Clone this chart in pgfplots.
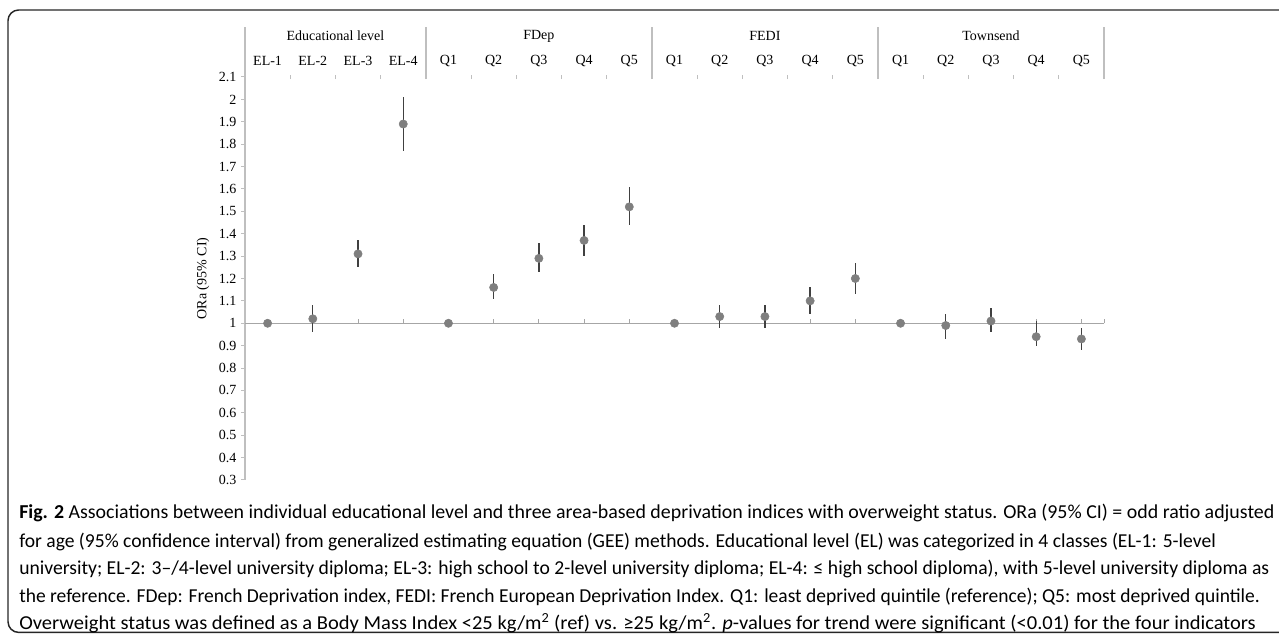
\documentclass[border=0pt]{standalone}
\usepackage{fontspec}
\setmainfont{Liberation Serif}
\newfontfamily\capfont{Carlito}
\usepackage{pgfplots}
\pgfplotsset{compat=1.18}
\usepackage{pgfplotstable}

\definecolor{axgray}{HTML}{A6A6A6}
\definecolor{sepgray}{HTML}{BFBFBF}
\definecolor{mkgray}{HTML}{7F7F7F}
\definecolor{ebgray}{HTML}{404040}

\pgfplotstableread{
x y lo hi
0 1.00 1.00 1.00
1 1.02 0.96 1.08
2 1.31 1.25 1.37
3 1.89 1.77 2.01
4 1.00 1.00 1.00
5 1.16 1.11 1.22
6 1.29 1.23 1.36
7 1.37 1.30 1.44
8 1.52 1.44 1.61
9 1.00 1.00 1.00
10 1.03 0.98 1.08
11 1.03 0.98 1.08
12 1.10 1.04 1.16
13 1.20 1.13 1.27
14 1.00 1.00 1.00
15 0.99 0.93 1.04
16 1.01 0.96 1.07
17 0.94 0.90 1.01
18 0.93 0.88 0.98
}\datatable

\newcommand{\chartfont}{\fontsize{10.5}{12}\selectfont}
\newcommand{\capsize}{\capfont\fontsize{14.8}{16}\selectfont}

\begin{document}
\begin{tikzpicture}
\useasboundingbox (0,0) rectangle (959.25pt,-475.5pt);
% frame
\draw[line width=1.1pt, black!85, rounded corners=8pt] (6pt,-7.5pt) rectangle (980pt,-474.3pt);

\begin{axis}[
  at={(183.75pt,-360pt)}, anchor=south west,
  scale only axis, width=644.25pt, height=302.25pt,
  xmin=-0.5, xmax=18.5, ymin=0.3, ymax=2.1,
  axis x line=none, axis y line=left,
  axis line style={draw=sepgray, line width=1pt, -},
  ytick={0.3,0.4,0.5,0.6,0.7,0.8,0.9,1,1.1,1.2,1.3,1.4,1.5,1.6,1.7,1.8,1.9,2,2.1},
  yticklabel style={font=\chartfont, /pgf/number format/fixed},
  /pgf/number format/assume math mode=true,
  tick style={draw=sepgray, line width=0.75pt},
  major tick length=3pt, tick align=outside,
  ylabel={ORa (95\% CI)},
  every axis y label/.style={at={(rel axis cs:0,0.5)}, xshift=-31.5pt, rotate=90, anchor=center, font=\chartfont},
  clip=false,
]
% reference line at 1
\draw[axgray, line width=1.1pt] (axis cs:-0.5,1) -- (axis cs:18.5,1);
\pgfplotsinvokeforeach{0,...,18}{
  \draw[axgray, line width=0.75pt] (axis cs:#1,1) -- ++(0pt,3pt);
}
\draw[axgray, line width=0.75pt] (axis cs:18.5,1) -- ++(0pt,3pt);

% top category axis
\pgfplotsinvokeforeach{-0.5,3.5,8.5,13.5,18.5}{
  \draw[sepgray, line width=1pt] (axis cs:#1,2.091) -- (axis cs:#1,2.323);
}
\pgfplotsinvokeforeach{0.5,1.5,2.5,4.5,5.5,6.5,7.5,9.5,10.5,11.5,12.5,14.5,15.5,16.5,17.5}{
  \draw[sepgray, line width=0.75pt] (axis cs:#1,2.091) -- (axis cs:#1,2.109);
}
\node[font=\chartfont] at (axis cs:1.5,2.283) {Educational level};
\node[font=\chartfont] at (axis cs:6,2.283) {FDep};
\node[font=\chartfont] at (axis cs:11,2.283) {FEDI};
\node[font=\chartfont] at (axis cs:16,2.283) {Townsend};
\node[font=\chartfont] at (axis cs:0,2.171) {EL-1};
\node[font=\chartfont] at (axis cs:1,2.171) {EL-2};
\node[font=\chartfont] at (axis cs:2,2.171) {EL-3};
\node[font=\chartfont] at (axis cs:3,2.171) {EL-4};
\pgfplotsinvokeforeach{4,9,14}{\node[font=\chartfont] at (axis cs:#1,2.171) {Q1};}
\pgfplotsinvokeforeach{5,10,15}{\node[font=\chartfont] at (axis cs:#1,2.171) {Q2};}
\pgfplotsinvokeforeach{6,11,16}{\node[font=\chartfont] at (axis cs:#1,2.171) {Q3};}
\pgfplotsinvokeforeach{7,12,17}{\node[font=\chartfont] at (axis cs:#1,2.171) {Q4};}
\pgfplotsinvokeforeach{8,13,18}{\node[font=\chartfont] at (axis cs:#1,2.171) {Q5};}

% error bars
\addplot[only marks, mark=none,
  error bars/.cd, y dir=both, y explicit, error mark=none,
  error bar style={ebgray, line width=1pt}]
  table[x=x, y=y, y error plus expr=\thisrow{hi}-\thisrow{y}, y error minus expr=\thisrow{y}-\thisrow{lo}] {\datatable};
% points
\addplot[only marks, mark=*, mark size=3.1pt, mark options={fill=mkgray, draw=mkgray}]
  table[x=x, y=y] {\datatable};
\end{axis}

% caption
\node[anchor=base west, inner sep=0pt, font=\capsize, xscale=1.009, transform shape] at (14.25pt,-389.25pt) {\textbf{Fig. 2} Associations between individual educational level and three area-based deprivation indices with overweight status. ORa (95\% CI) = odd ratio adjusted};
\node[anchor=base west, inner sep=0pt, font=\capsize, xscale=0.992, transform shape] at (14.25pt,-410.25pt) {for age (95\% confidence interval) from generalized estimating equation (GEE) methods. Educational level (EL) was categorized in 4 classes (EL-1: 5-level};
\node[anchor=base west, inner sep=0pt, font=\capsize, xscale=0.995, transform shape] at (14.25pt,-431.25pt) {university; EL-2: 3–/4-level university diploma; EL-3: high school to 2-level university diploma; EL-4: ≤ high school diploma), with 5-level university diploma as};
\node[anchor=base west, inner sep=0pt, font=\capsize, xscale=0.988, transform shape] at (14.25pt,-451.5pt) {the reference. FDep: French Deprivation index, FEDI: French European Deprivation Index. Q1: least deprived quintile (reference); Q5: most deprived quintile.};
\node[anchor=base west, inner sep=0pt, font=\capsize, xscale=1.04, transform shape] at (14.25pt,-471.75pt) {Overweight status was defined as a Body Mass Index <25 kg/m\textsuperscript{2} (ref) vs. ≥25 kg/m\textsuperscript{2}. \textit{p}-values for trend were significant (<0.01) for the four indicators};
\end{tikzpicture}
\end{document}
